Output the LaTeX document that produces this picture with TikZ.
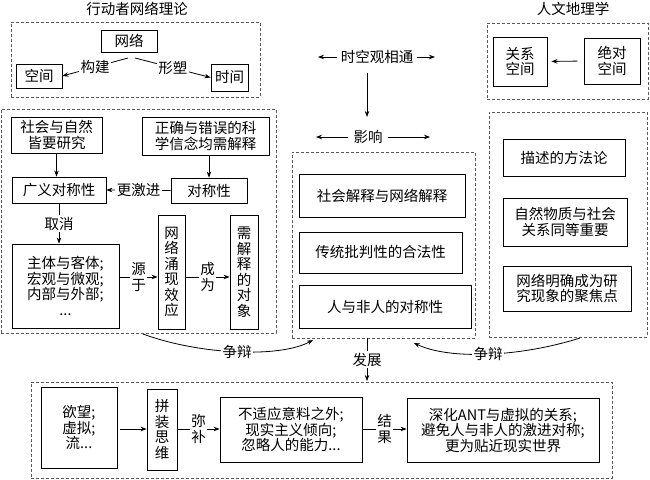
\documentclass[tikz,border=0pt]{standalone}
\usepackage{fontspec}
\setmainfont{Noto Sans CJK SC}
\usetikzlibrary{arrows.meta,calc}
\begin{document}
\begin{tikzpicture}[x=1pt,y=-1pt,
  font=\fontsize{14.5}{15.5}\selectfont,
  box/.style={draw,line width=0.8pt,inner sep=0pt,align=center},
  sz/.style 2 args={minimum width=#1pt,minimum height=#2pt},
  dbox/.style={draw=black!65,dash pattern=on 3pt off 2pt,line width=0.6pt,inner sep=0pt},
  lab/.style={fill=white,inner sep=1.5pt,align=center},
  plain/.style={inner sep=0pt,align=center},
  arr/.style={line width=0.8pt,-{Stealth[length=6pt,width=4.5pt]}}]
\useasboundingbox (0,0) rectangle (650,479);

% ---------- top left: ANT ----------
\node[plain] (t1) at (137,9) {行动者网络理论};
\node[dbox,sz={249}{75}] (antbox) at (135.5,59.5) {};
\node[box,sz={56}{22}] (net) at (129,41) {网络};
\node[box,sz={46}{24}] (kj) at (39,76) {空间};
\node[box,sz={37}{27}] (sj) at (229.5,77.5) {时间};
\coordinate (c1) at (128,58);
\coordinate (c2) at (135,58);
\draw[arr] (c1) -- node[lab]{构建} (kj.east);
\draw[arr] (c2) -- node[lab]{形塑} (sj.west);

% ---------- top middle ----------
\node[plain] (sk) at (377,57) {时空观相通};
\coordinate (skl) at (318,57);
\coordinate (skr) at (435,57);
\draw[arr] ([xshift=-4pt]sk.west) -- (skl);
\draw[arr] ([xshift=4pt]sk.east) -- (skr);
\node[plain] (yx) at (368,137) {影响};
\coordinate (yxl) at (316,137);
\coordinate (yxr) at (430,137);
\draw[arr] ([xshift=-5pt]yx.west) -- (yxl);
\draw[arr] ([xshift=5pt]yx.east) -- (yxr);
\coordinate (v1) at (367,73);
\coordinate (v2) at (367,117);
\draw[arr] (v1) -- (v2);

% ---------- top right: human geography ----------
\node[plain] (t2) at (573,9) {人文地理学};
\node[dbox,sz={161}{76}] (hgbox) at (567.5,61) {};
\node[box,sz={54}{49}] (gx) at (520,61.5) {关系\\空间};
\node[box,sz={56}{46}] (jd) at (612,61) {绝对\\空间};
\draw[arr,shorten <=6pt,shorten >=4pt] (jd.west) -- (gx.east);

% ---------- left middle ----------
\node[dbox,sz={275}{224}] (lbox) at (138.5,221) {};
\node[box,sz={91}{36}] (shz) at (56.5,135) {社会与自然\\皆要研究};
\node[box,sz={127}{38}] (zq) at (205.5,136) {正确与错误的科\\学信念均需解释};
\node[box,sz={94}{26}] (gy) at (59,190) {广义对称性};
\node[box,sz={76}{25}] (dc) at (209,190.5) {对称性};
\node[box,sz={107}{84}] (zt) at (65.5,286) {主体与客体;\\宏观与微观;\\内部与外部;\\...};
\node[box,sz={27}{114}] (wl) at (171.5,272) {网\\络\\涌\\现\\效\\应};
\node[box,sz={28}{114}] (xjs) at (244,272) {需\\解\\释\\的\\对\\象};
\draw[arr] (shz.south) -- (shz.south |- gy.north);
\draw[arr] (dc.north |- zq.south) -- (dc.north);
\draw[arr] (dc.west) -- node[lab]{更激进} (gy.east);
\draw[arr] (gy.south) -- node[lab]{取消} (gy.south |- zt.north);
\coordinate (ya) at (0,277);
\draw[arr] (zt.east |- ya) -- node[lab]{源\\于} (wl.west |- ya);
\draw[arr] (wl.east |- ya) -- node[lab]{成\\为} (xjs.west |- ya);

% ---------- middle ----------
\node[dbox,sz={183}{186}] (mbox) at (383.5,245) {};
\node[box,sz={166}{43}] (m1) at (382,195.5) {社会解释与网络解释};
\node[box,sz={163}{41}] (m2) at (380.5,252.5) {传统批判性的合法性};
\node[box,sz={172}{43}] (m3) at (385,306.5) {人与非人的对称性};

% ---------- right middle ----------
\node[dbox,sz={158}{225}] (rbox) at (568,224.5) {};
\node[box,sz={122}{37}] (r1) at (564,157.5) {描述的方法论};
\node[box,sz={124}{48}] (r2) at (565,222) {自然物质与社会\\关系同等重要};
\node[box,sz={128}{45}] (r3) at (567,288.5) {网络明确成为研\\究现象的聚焦点};

% ---------- debate arrows ----------
\coordinate (la) at (143,334);
\coordinate (lt) at (313,340);
\draw[arr] (la) .. controls (200,355) and (280,358) .. node[lab,pos=0.5]{争辩} (lt);
\coordinate (ra) at (580,338);
\coordinate (rt) at (414,343);
\draw[arr] (ra) .. controls (520,357) and (450,360) .. node[lab,pos=0.5]{争辩} (rt);

% ---------- bottom ----------
\node[dbox,sz={581}{96}] (bbox) at (321.5,430) {};
\draw[arr] (367,338) -- node[lab]{发展} (367,381);
\node[box,sz={76}{81}] (yw) at (79,427.5) {欲望;\\虚拟;\\流...};
\node[box,sz={30}{81}] (pz) at (162,429.5) {拼\\装\\思\\维};
\node[box,sz={142}{65}] (bs) at (291,429.5) {不适应意料之外;\\现实主义倾向;\\忽略人的能力...};
\node[box,sz={192}{64}] (sh) at (503,430) {深化ANT与虚拟的关系;\\避免人与非人的激进对称;\\更为贴近现实世界};
\coordinate (yb) at (0,429);
\draw[arr] ([xshift=3pt]yw.east |- yb) -- (pz.west |- yb);
\draw[arr] (pz.east |- yb) -- node[lab]{弥\\补} (bs.west |- yb);
\draw[arr] (bs.east |- yb) -- node[lab]{结\\果} (sh.west |- yb);
\end{tikzpicture}
\end{document}
